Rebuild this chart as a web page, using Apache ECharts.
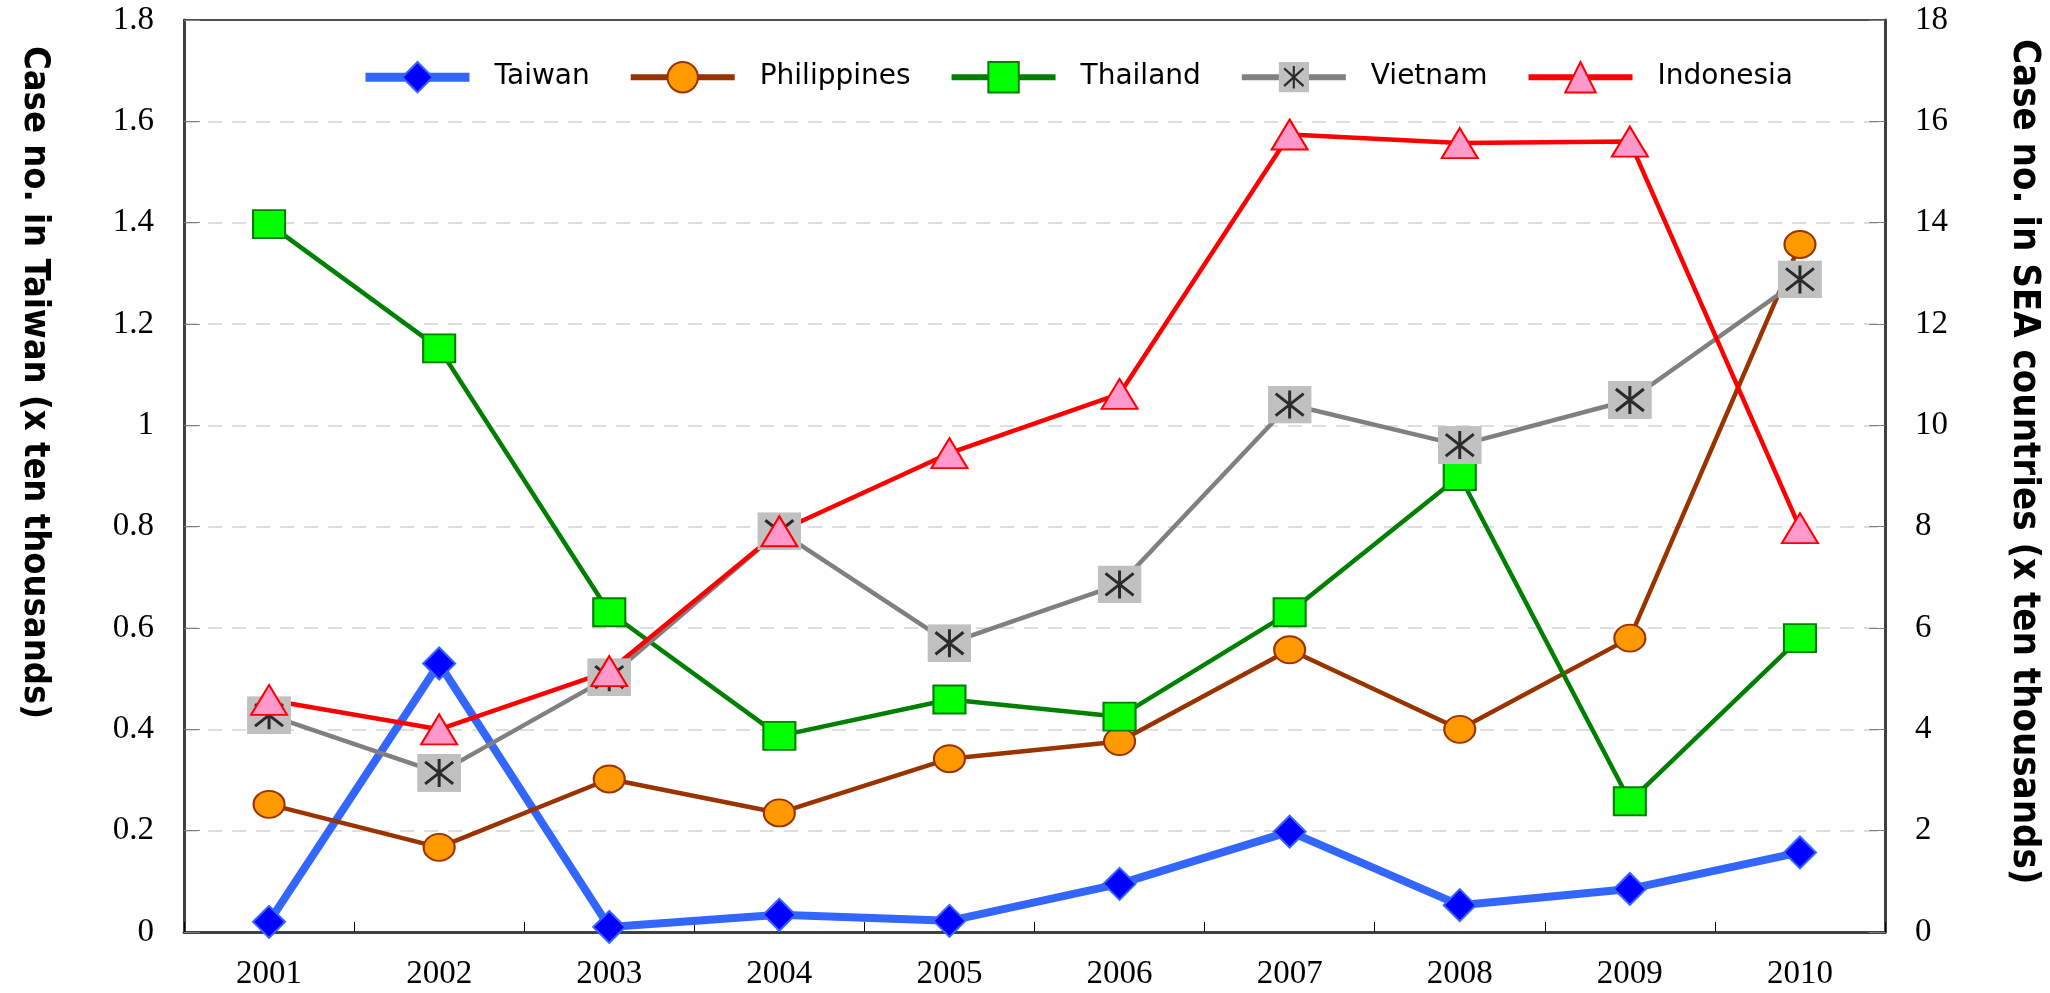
<!DOCTYPE html>
<html lang="en">
<head>
    <meta charset="UTF-8">
    <title>Case numbers in Taiwan and SEA countries</title>
    <style>
        html, body {
            margin: 0;
            padding: 0;
            background: #ffffff;
        }
        #main {
            width: 2050px;
            height: 993px;
        }
    </style>
    <script type="text/javascript" src="https://cdn.jsdelivr.net/npm/echarts@6/dist/echarts.min.js"></script>
</head>
<body>
<div id="main"></div>
<script type="text/javascript">
    // years on the x axis
    var years = ["2001", "2002", "2003", "2004", "2005", "2006", "2007", "2008", "2009", "2010"];
    // left axis (x ten thousands)
    var taiwan = [0.02, 0.53, 0.01, 0.034, 0.022, 0.095, 0.198, 0.053, 0.085, 0.157];
    // right axis (x ten thousands)
    var philippines = [2.52, 1.67, 3.02, 2.35, 3.42, 3.76, 5.57, 4.0, 5.80, 13.57];
    var thailand = [13.97, 11.52, 6.31, 3.87, 4.59, 4.25, 6.31, 9.0, 2.58, 5.80];
    var vietnam = [4.28, 3.14, 5.03, 7.91, 5.70, 6.86, 10.41, 9.61, 10.50, 12.88];
    var indonesia = [4.58, 4.0, 5.15, 7.91, 9.45, 10.62, 15.74, 15.57, 15.60, 7.97];
    var leftTicks = {min: 0, max: 1.8, interval: 0.2};
    var rightTicks = {min: 0, max: 18, interval: 2};

    var vnSvg = "<svg xmlns='http://www.w3.org/2000/svg' width='44' height='38' viewBox='0 0 44 38'>" +
        "<rect width='44' height='38' fill='#c0c0c0'/>" +
        "<path d='M22 5V33M8 8L36 30M8 30L36 8' stroke='#2b2b2b' stroke-width='3' fill='none'/></svg>";
    var vnSymbol = 'image://data:image/svg+xml;utf8,' + encodeURIComponent(vnSvg);

    var chart = echarts.init(document.getElementById('main'));
    var labelFont = {fontFamily: 'Liberation Serif', fontSize: 33, color: '#000'};
    var titleStyle = {fontFamily: 'DejaVu Sans Condensed', fontWeight: 'bold', fill: '#000', align: 'left', verticalAlign: 'middle'};

    var option = {
        animation: false,
        backgroundColor: '#fff',
        grid: {
            left: 184, right: 165, top: 20, bottom: 61,
            show: true, borderColor: '#505050', borderWidth: 2
        },
        legend: {
            left: 356, top: 56,
            itemWidth: 104, itemHeight: 38, itemGap: 38,
            data: [
                {name: 'Taiwan', lineStyle: {width: 9}},
                {name: 'Philippines', lineStyle: {width: 6}},
                {name: 'Thailand', lineStyle: {width: 6}},
                {name: 'Vietnam', lineStyle: {width: 6}},
                {name: 'Indonesia', lineStyle: {width: 6}}
            ],
            textStyle: {fontFamily: 'DejaVu Sans', fontSize: 28, color: '#000', padding: [0, 0, 0, 20]}
        },
        graphic: [
            {type: 'text', x: 34, y: 46, rotation: -Math.PI / 2,
                style: Object.assign({text: 'Case no. in Taiwan (x ten thousands)', fontSize: 36}, titleStyle)},
            {type: 'text', x: 2024, y: 39, rotation: -Math.PI / 2,
                style: Object.assign({text: 'Case no. in SEA countries (x ten thousands)', fontSize: 38}, titleStyle)}
        ],
        xAxis: {
            type: 'category',
            data: years,
            boundaryGap: true,
            axisLine: {lineStyle: {color: '#404040', width: 3}},
            axisTick: {show: true, inside: true, length: 10, lineStyle: {color: '#000', width: 1}},
            axisLabel: Object.assign({margin: 26}, labelFont)
        },
        yAxis: [{
            type: 'value',
            min: leftTicks.min, max: leftTicks.max, interval: leftTicks.interval,
            axisLine: {show: true, lineStyle: {color: '#404040', width: 3}},
            axisTick: {show: true, inside: true, length: 16, lineStyle: {color: '#808080', width: 1}},
            splitLine: {show: true, showMinLine: false, showMaxLine: false,
                lineStyle: {color: '#d4d4d4', width: 1.5, type: [14, 10]}},
            axisLabel: Object.assign({margin: 30}, labelFont)
        }, {
            type: 'value',
            position: 'right',
            min: rightTicks.min, max: rightTicks.max, interval: rightTicks.interval,
            axisLine: {show: true, lineStyle: {color: '#404040', width: 3}},
            axisTick: {show: true, inside: true, length: 16, lineStyle: {color: '#808080', width: 1}},
            splitLine: {show: false},
            axisLabel: Object.assign({margin: 30}, labelFont)
        }],
        series: [{
            name: 'Taiwan',
            type: 'line',
            yAxisIndex: 0,
            data: taiwan,
            symbol: 'diamond',
            symbolSize: [32, 32],
            lineStyle: {color: '#3366ff', width: 8},
            itemStyle: {color: '#0000ff', borderColor: '#3366ff', borderWidth: 2}
        }, {
            name: 'Philippines',
            type: 'line',
            yAxisIndex: 1,
            data: philippines,
            symbol: 'circle',
            symbolSize: [31, 27],
            lineStyle: {color: '#993300', width: 4.5},
            itemStyle: {color: '#ff9900', borderColor: '#993300', borderWidth: 2}
        }, {
            name: 'Thailand',
            type: 'line',
            yAxisIndex: 1,
            data: thailand,
            symbol: 'rect',
            symbolSize: [32, 28],
            lineStyle: {color: '#008000', width: 4.5},
            itemStyle: {color: '#00ff00', borderColor: '#008000', borderWidth: 2}
        }, {
            name: 'Vietnam',
            type: 'line',
            yAxisIndex: 1,
            data: vietnam,
            symbol: vnSymbol,
            symbolSize: [44, 38],
            lineStyle: {color: '#808080', width: 4.5},
            itemStyle: {color: '#c0c0c0'}
        }, {
            name: 'Indonesia',
            type: 'line',
            yAxisIndex: 1,
            data: indonesia,
            symbol: 'triangle',
            symbolSize: [36, 30],
            lineStyle: {color: '#ff0000', width: 4.5},
            itemStyle: {color: '#ff99cc', borderColor: '#ff0000', borderWidth: 2}
        }]
    };
    chart.setOption(option);
</script>
</body>
</html>
